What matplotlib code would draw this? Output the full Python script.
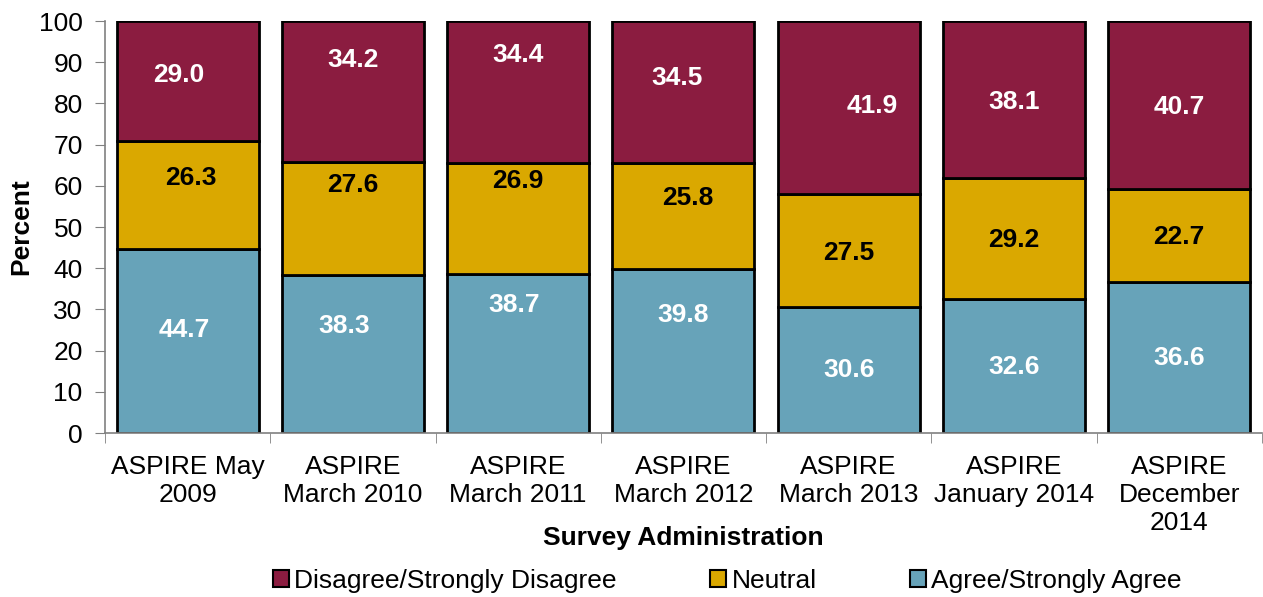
import numpy as np
import matplotlib.pyplot as plt
from matplotlib.patches import Patch

plt.rcParams['font.family'] = ['Liberation Sans', 'DejaVu Sans']

categories = ["ASPIRE May\n2009", "ASPIRE\nMarch 2010", "ASPIRE\nMarch 2011",
              "ASPIRE\nMarch 2012", "ASPIRE\nMarch 2013", "ASPIRE\nJanuary 2014",
              "ASPIRE\nDecember\n2014"]
agree = [44.7, 38.3, 38.7, 39.8, 30.6, 32.6, 36.6]
neutral = [26.3, 27.6, 26.9, 25.8, 27.5, 29.2, 22.7]
disagree = [29.0, 34.2, 34.4, 34.5, 41.9, 38.1, 40.7]
legend_names = ['Disagree/Strongly Disagree', 'Neutral', 'Agree/Strongly Agree']

# where the value labels sit inside each segment (fraction of segment height),
# the original chart had them nudged by hand
frac_agree = [0.56, 0.68, 0.80, 0.72, 0.50, 0.49, 0.50]
frac_neutral = [0.65, 0.79, 0.84, 0.67, 0.48, 0.49, 0.48]
frac_disagree = [0.55, 0.72, 0.76, 0.60, 0.51, 0.49, 0.49]
# small sideways nudges, in category units
dx_agree = [-0.02, -0.05, -0.025, 0, 0, 0, 0]
dx_neutral = [0.02, 0, 0, 0.025, 0, 0, 0]
dx_disagree = [-0.055, 0, 0, -0.04, 0.14, 0, 0]

c_dis = '#8B1C40'
c_neu = '#DAA800'
c_agr = '#67A3B9'

fs = 19

fig = plt.figure(figsize=(12.63, 5.97), dpi=100)
ax = fig.add_axes([0.0831, 0.2747, 0.916, 0.690])

x = np.arange(len(categories))
w = 0.86
agree = np.array(agree)
neutral = np.array(neutral)
disagree = np.array(disagree)

ax.bar(x, agree, w, color=c_agr, edgecolor='black', linewidth=2)
ax.bar(x, neutral, w, bottom=agree, color=c_neu, edgecolor='black', linewidth=2)
ax.bar(x, disagree, w, bottom=agree + neutral, color=c_dis, edgecolor='black', linewidth=2)

for i in range(len(x)):
    ax.text(x[i] + dx_agree[i], agree[i] * frac_agree[i], f"{agree[i]:.1f}",
            ha='center', va='center', color='white', fontsize=fs, fontweight='bold')
    ax.text(x[i] + dx_neutral[i], agree[i] + neutral[i] * frac_neutral[i], f"{neutral[i]:.1f}",
            ha='center', va='center', color='black', fontsize=fs, fontweight='bold')
    ax.text(x[i] + dx_disagree[i], agree[i] + neutral[i] + disagree[i] * frac_disagree[i],
            f"{disagree[i]:.1f}", ha='center', va='center', color='white',
            fontsize=fs, fontweight='bold')

ax.set_xlim(-0.5, len(x) - 0.5)
ax.set_ylim(0, 100)
ax.set_yticks(np.arange(0, 101, 10))
ax.set_xticks(x)
ax.set_xticklabels(categories, fontsize=fs, linespacing=1.2)
ax.set_xticks(np.arange(-0.5, len(x), 1), minor=True)
ax.tick_params(axis='x', which='major', length=0, pad=16)
ax.tick_params(axis='x', which='minor', length=7, color='#808080', direction='out')
ax.tick_params(axis='y', labelsize=fs, length=7, color='#808080', direction='out', pad=9)
for s in ['top', 'right']:
    ax.spines[s].set_visible(False)
for s in ['left', 'bottom']:
    ax.spines[s].set_color('#808080')
    ax.spines[s].set_linewidth(1.2)

ax.set_ylabel('Percent', fontsize=fs, fontweight='bold', labelpad=4)
ax.set_xlabel('Survey Administration', fontsize=fs, fontweight='bold')
ax.xaxis.set_label_coords(0.5, -0.254)
ax.xaxis.label.set_va('center')

handles = [Patch(facecolor=c, edgecolor='black', linewidth=1.5)
           for c in (c_dis, c_neu, c_agr)]
fig.legend(handles, legend_names, loc='center left',
           bbox_to_anchor=(273 / 1263, 1 - 581 / 597), ncol=3, frameon=False,
           fontsize=fs, handlelength=0.6, handleheight=0.6, handletextpad=0.2,
           columnspacing=3.55, borderpad=0, borderaxespad=0)

fig.savefig('out.png', dpi=100)
